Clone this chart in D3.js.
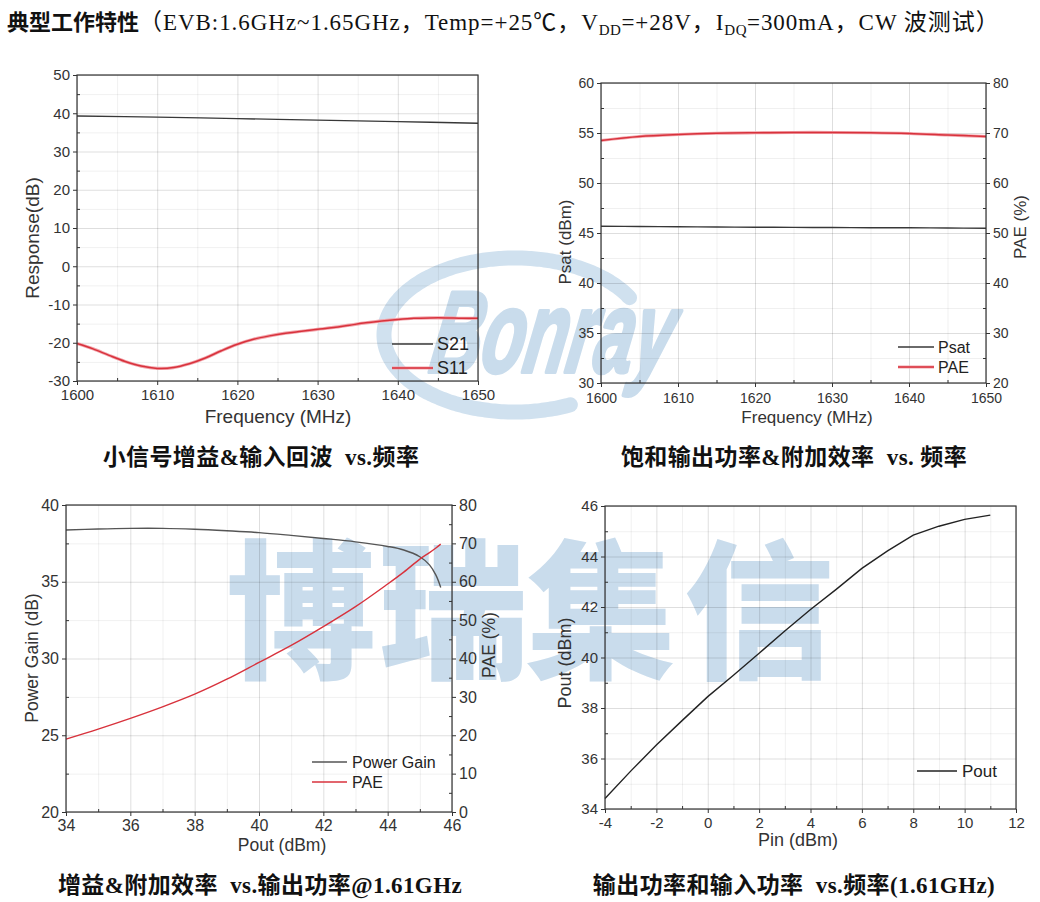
<!DOCTYPE html>
<html><head><meta charset="utf-8">
<script src="https://cdn.jsdelivr.net/npm/d3@7/dist/d3.min.js"></script>
<style>html,body{margin:0;padding:0;background:#fff;}svg{display:block;}</style>
</head><body>
<script>
// ---------------- DATA ----------------
const freqS21 = [1600, 1610, 1620, 1630, 1640, 1650];
const s21 = [39.3, 39.0, 38.6, 38.2, 37.8, 37.4];
const freqS11 = [1600,1602,1604,1606,1608,1610,1612,1614,1616,1618,1620,1622,1624,1626,1628,1630,1632,1634,1636,1638,1640,1642,1644,1646,1648,1650];
const s11 = [-20.2,-21.6,-23.3,-24.9,-26.1,-26.7,-26.5,-25.5,-24.0,-22.1,-20.4,-19.1,-18.2,-17.5,-17.0,-16.5,-16.0,-15.4,-14.8,-14.3,-13.9,-13.6,-13.5,-13.5,-13.6,-13.6];

const freqSat = [1600,1605,1610,1615,1620,1625,1630,1635,1640,1645,1650];
const psat = [45.67,45.65,45.63,45.60,45.58,45.56,45.55,45.53,45.52,45.50,45.47];
const paeFreq = [68.5,69.3,69.7,69.95,70.05,70.1,70.1,70.05,69.9,69.6,69.3];

const poutAxis = [34,35,36,37,38,39,40,41,42,43,44,44.5,45,45.3,45.5,45.65];
const powerGain = [38.37,38.44,38.48,38.48,38.42,38.32,38.2,38.02,37.82,37.6,37.3,37.07,36.63,36.1,35.43,34.63];
const paePout = [19.0,21.6,24.4,27.4,30.7,34.6,39.0,43.4,48.3,53.5,59.4,62.5,65.9,67.6,68.8,69.8];

const pin = [-4,-3,-2,-1,0,1,2,3,4,5,6,7,8,9,10,11];
const poutPin = [34.42,35.5,36.53,37.5,38.45,39.3,40.17,41.05,41.9,42.7,43.53,44.22,44.85,45.2,45.47,45.64];

const freqTicks = [1600,1610,1620,1630,1640,1650];
const freqMinor = [1605,1615,1625,1635,1645];
const respTicks = [-30,-20,-10,0,10,20,30,40,50];
const respMinor = [-25,-15,-5,5,15,25,35,45];
const psatTicks = [30,35,40,45,50,55,60];
const psatMinor = [32.5,37.5,42.5,47.5,52.5,57.5];
const pae1Ticks = [20,30,40,50,60,70,80];
const pae1Minor = [25,35,45,55,65,75];
const poutTicks = [34,36,38,40,42,44,46];
const poutMinor = [35,37,39,41,43,45];
const gainTicks = [20,25,30,35,40];
const gainMinor = [22.5,27.5,32.5,37.5];
const pae2Ticks = [0,10,20,30,40,50,60,70,80];
const pae2Minor = [5,15,25,35,45,55,65,75];
const pinTicks = [-4,-2,0,2,4,6,8,10,12];
const pinMinor = [-3,-1,1,3,5,7,9,11];
const pout2Ticks = [34,36,38,40,42,44,46];
const pout2Minor = [35,37,39,41,43,45];

const titleBold = "典型工作特性";
const subTitles = ["小信号增益&输入回波  vs.频率", "饱和输出功率&附加效率  vs. 频率", "增益&附加效率  vs.输出功率@1.61GHz", "输出功率和输入功率  vs.频率(1.61GHz)"];
const watermarkChars = ["博","瑞","集","信"];

// ---------------- STYLE ----------------
const SANS = "'Liberation Sans', Arial, sans-serif";
const SERIF = "'Liberation Serif', 'Noto Sans CJK SC', serif";
const CJK = "'Noto Sans CJK SC', sans-serif";
const BLACK = "#383838", RED = "#d8323c", PINK = "#f2a3aa";
const WM = "#c9dcec";
const fmt = d => String(d);

const svg = d3.select("body").append("svg").attr("width", 1040).attr("height", 902);
svg.append("rect").attr("width", 1040).attr("height", 902).attr("fill", "#fff");

// ---------------- WATERMARK ----------------
const wm = svg.append("g");
(function ring(){
  const cx = 515, cy = 335, rx = 131, ry = 77;
  const pts = d3.range(65, 333, 2).map(a => {
    const t = a * Math.PI / 180;
    return [cx + rx * Math.cos(t), cy + ry * Math.sin(t)];
  });
  wm.append("path").attr("d", d3.line().curve(d3.curveCatmullRom)(pts))
    .attr("fill", "none").attr("stroke", "#d0e1ef").attr("stroke-width", 15).attr("stroke-linecap", "round");
})();
wm.append("text").attr("transform", "translate(548,372) scale(1,1.65) skewX(-16)")
  .attr("text-anchor", "middle").attr("font-family", SANS).attr("font-weight", "bold")
  .attr("font-style", "italic").attr("font-size", 70).attr("fill", WM)
  .attr("stroke", WM).attr("stroke-width", 2.5).attr("stroke-linejoin", "round").text("Bonray");
const wmX = [301, 453, 601, 759];
watermarkChars.forEach((c, i) => {
  wm.append("text").attr("x", wmX[i]).attr("y", 667).attr("text-anchor", "middle")
    .attr("font-family", CJK).attr("font-weight", 900).attr("font-size", 150)
    .attr("fill", WM).text(c);
});

// ---------------- TITLE ----------------
const title = svg.append("text").attr("x", 7).attr("y", 30).attr("font-size", 23).attr("fill", "#111");
title.append("tspan").attr("font-family", CJK).attr("font-weight", "bold").attr("font-size", 22).text(titleBold);
const serifSpan = (t, dy) => title.append("tspan").attr("font-family", SERIF).attr("letter-spacing", 0.95).attr("dy", dy || 0).text(t);
const subSpan = (t) => title.append("tspan").attr("font-family", SERIF).attr("font-size", 15).attr("letter-spacing", 0.5).attr("dy", 5).text(t);
serifSpan("（EVB:1.6GHz~1.65GHz，Temp=+25℃，V");
subSpan("DD");
serifSpan("=+28V，I", -5);
subSpan("DQ");
serifSpan("=300mA，CW 波测试）", -5);

// ---------------- PANELS ----------------
function panel(o) {
  const g = svg.append("g");
  const x = d3.scaleLinear().domain(o.xDom).range([o.l, o.r]);
  const y = d3.scaleLinear().domain(o.yDom).range([o.b, o.t]);
  const y2 = o.y2Dom ? d3.scaleLinear().domain(o.y2Dom).range([o.b, o.t]) : null;
  const H = o.b - o.t, W = o.r - o.l;

  const grid = g.append("g");
  const gridStyle = (op) => s => { s.select(".domain").remove(); s.selectAll("line").attr("stroke", "#000").attr("stroke-opacity", op); };
  grid.append("g").attr("transform", `translate(0,${o.b})`)
    .call(d3.axisBottom(x).tickValues(o.xMinor).tickSize(-H).tickFormat("")).call(gridStyle(0.06));
  grid.append("g").attr("transform", `translate(${o.l},0)`)
    .call(d3.axisLeft(y).tickValues(o.yMinor).tickSize(-W).tickFormat("")).call(gridStyle(0.06));
  grid.append("g").attr("transform", `translate(0,${o.b})`)
    .call(d3.axisBottom(x).tickValues(o.xTicks).tickSize(-H).tickFormat("")).call(gridStyle(0.13));
  grid.append("g").attr("transform", `translate(${o.l},0)`)
    .call(d3.axisLeft(y).tickValues(o.yTicks).tickSize(-W).tickFormat("")).call(gridStyle(0.13));

  o.series.forEach(sr => {
    const ys = sr.right ? y2 : y;
    const line = d3.line().x(d => x(d[0])).y(d => ys(d[1])).curve(sr.curve || d3.curveCatmullRom);
    const data = sr.x.map((v, i) => [v, sr.y[i]]);
    if (sr.halo) g.append("path").attr("d", line(data)).attr("fill", "none").attr("stroke", PINK).attr("stroke-width", 3.2);
    g.append("path").attr("d", line(data)).attr("fill", "none").attr("stroke", sr.color).attr("stroke-width", sr.w || 1.4);
  });

  g.append("rect").attr("x", o.l).attr("y", o.t).attr("width", W).attr("height", H)
    .attr("fill", "none").attr("stroke", "#333").attr("stroke-width", 1.2);

  const styleAxis = (s, fs) => {
    s.select(".domain").remove();
    s.selectAll("line").attr("stroke", "#333").attr("stroke-width", 1);
    s.selectAll("text").attr("font-family", SANS).attr("font-size", fs).attr("fill", "#333");
  };
  const fs = o.tickFs || 15;
  g.append("g").attr("transform", `translate(0,${o.b})`)
    .call(d3.axisBottom(x).tickValues(o.xTicks).tickSize(4).tickPadding(o.xPad || 4).tickFormat(fmt))
    .call(s => styleAxis(s, fs));
  g.append("g").attr("transform", `translate(0,${o.b})`)
    .call(d3.axisBottom(x).tickValues(o.xMinor).tickSize(-3).tickFormat(""))
    .call(s => styleAxis(s, fs));
  g.append("g").attr("transform", `translate(${o.l},0)`)
    .call(d3.axisLeft(y).tickValues(o.yTicks).tickSize(4).tickPadding(3).tickFormat(fmt))
    .call(s => styleAxis(s, fs));
  g.append("g").attr("transform", `translate(${o.l},0)`)
    .call(d3.axisLeft(y).tickValues(o.yMinor).tickSize(-3).tickFormat(""))
    .call(s => styleAxis(s, fs));
  if (y2) {
    g.append("g").attr("transform", `translate(${o.r},0)`)
      .call(d3.axisRight(y2).tickValues(o.y2Ticks).tickSize(4).tickPadding(3).tickFormat(fmt))
      .call(s => styleAxis(s, fs));
    g.append("g").attr("transform", `translate(${o.r},0)`)
      .call(d3.axisRight(y2).tickValues(o.y2Minor).tickSize(-3).tickFormat(""))
      .call(s => styleAxis(s, fs));
  }

  const tf = o.titleFs || 18;
  g.append("text").attr("x", o.xt[0]).attr("y", o.xt[1]).attr("text-anchor", "middle")
    .attr("font-family", SANS).attr("font-size", tf).attr("fill", "#333").text(o.xLabel);
  g.append("text").attr("transform", `translate(${o.yt[0]},${o.yt[1]}) rotate(-90)`).attr("text-anchor", "middle")
    .attr("dy", "0.35em").attr("font-family", SANS).attr("font-size", tf).attr("fill", "#333").text(o.yLabel);
  if (o.y2Label) {
    g.append("text").attr("transform", `translate(${o.y2t[0]},${o.y2t[1]}) rotate(-90)`).attr("text-anchor", "middle")
      .attr("dy", "0.35em").attr("font-family", SANS).attr("font-size", tf).attr("fill", "#333").text(o.y2Label);
  }

  const lg = o.legend;
  lg.items.forEach((it, i) => {
    const yy = lg.y + i * lg.gap;
    if (it.halo) g.append("line").attr("x1", lg.x1).attr("x2", lg.x2).attr("y1", yy).attr("y2", yy).attr("stroke", PINK).attr("stroke-width", 3.2);
    g.append("line").attr("x1", lg.x1).attr("x2", lg.x2).attr("y1", yy).attr("y2", yy).attr("stroke", it.color).attr("stroke-width", 1.4);
    g.append("text").attr("x", lg.tx).attr("y", yy).attr("dy", "0.35em").attr("font-family", SANS)
      .attr("font-size", lg.fs).attr("fill", "#222").text(it.label);
  });

  g.append("text").attr("x", o.st[0]).attr("y", o.st[1]).attr("text-anchor", "middle")
    .attr("font-family", SERIF).attr("font-weight", "bold").attr("font-size", 23).attr("letter-spacing", 0.4)
    .attr("fill", "#111").style("white-space", "pre").text(o.subtitle);
}

panel({
  l: 77, r: 478, t: 75, b: 381,
  xDom: [1600, 1650], yDom: [-30, 50],
  xTicks: freqTicks, xMinor: freqMinor, yTicks: respTicks, yMinor: respMinor,
  series: [
    { x: freqS21, y: s21, color: BLACK },
    { x: freqS11, y: s11, color: RED, halo: true, w: 1.5 }
  ],
  xLabel: "Frequency (MHz)", xt: [278, 423], yLabel: "Response(dB)", yt: [32, 238], titleFs: 19,
  legend: { x1: 392, x2: 433, tx: 437, y: 344, gap: 24, fs: 18,
    items: [{ label: "S21", color: BLACK }, { label: "S11", color: RED, halo: true }] },
  subtitle: subTitles[0], st: [261, 465]
});

panel({
  l: 601, r: 986, t: 83, b: 383,
  xDom: [1600, 1650], yDom: [30, 60], y2Dom: [20, 80],
  xTicks: freqTicks, xMinor: freqMinor, yTicks: psatTicks, yMinor: psatMinor,
  y2Ticks: pae1Ticks, y2Minor: pae1Minor, tickFs: 14, xPad: 6,
  series: [
    { x: freqSat, y: psat, color: BLACK },
    { x: freqSat, y: paeFreq, color: RED, halo: true, right: true, w: 1.5 }
  ],
  xLabel: "Frequency (MHz)", xt: [807, 423], yLabel: "Psat (dBm)", yt: [565, 242],
  y2Label: "PAE (%)", y2t: [1020, 227], titleFs: 17,
  legend: { x1: 898, x2: 934, tx: 938, y: 347, gap: 20, fs: 16,
    items: [{ label: "Psat", color: BLACK }, { label: "PAE", color: RED, halo: true }] },
  subtitle: subTitles[1], st: [794, 465]
});

panel({
  l: 66, r: 452, t: 505, b: 812,
  xDom: [34, 46], yDom: [20, 40], y2Dom: [0, 80],
  xTicks: poutTicks, xMinor: poutMinor, yTicks: gainTicks, yMinor: gainMinor,
  y2Ticks: pae2Ticks, y2Minor: pae2Minor, tickFs: 16,
  series: [
    { x: poutAxis, y: powerGain, color: "#555" },
    { x: poutAxis, y: paePout, color: RED, right: true, w: 1.4 }
  ],
  xLabel: "Pout (dBm)", xt: [282, 851], yLabel: "Power Gain (dB)", yt: [32, 658],
  y2Label: "PAE (%)", y2t: [489, 645], titleFs: 17.5,
  legend: { x1: 312, x2: 347, tx: 352, y: 762, gap: 20, fs: 16,
    items: [{ label: "Power Gain", color: "#555" }, { label: "PAE", color: RED }] },
  subtitle: subTitles[2], st: [260, 893]
});

panel({
  l: 605, r: 1016, t: 506, b: 809,
  xDom: [-4, 12], yDom: [34, 46],
  xTicks: pinTicks, xMinor: pinMinor, yTicks: pout2Ticks, yMinor: pout2Minor, tickFs: 15,
  series: [
    { x: pin, y: poutPin, color: "#222", curve: d3.curveLinear, w: 1.4 }
  ],
  xLabel: "Pin (dBm)", xt: [798, 846], yLabel: "Pout (dBm)", yt: [565, 663], titleFs: 18,
  legend: { x1: 917, x2: 957, tx: 962, y: 771, gap: 20, fs: 17,
    items: [{ label: "Pout", color: "#222" }] },
  subtitle: subTitles[3], st: [794, 893]
});
</script>
</body></html>
